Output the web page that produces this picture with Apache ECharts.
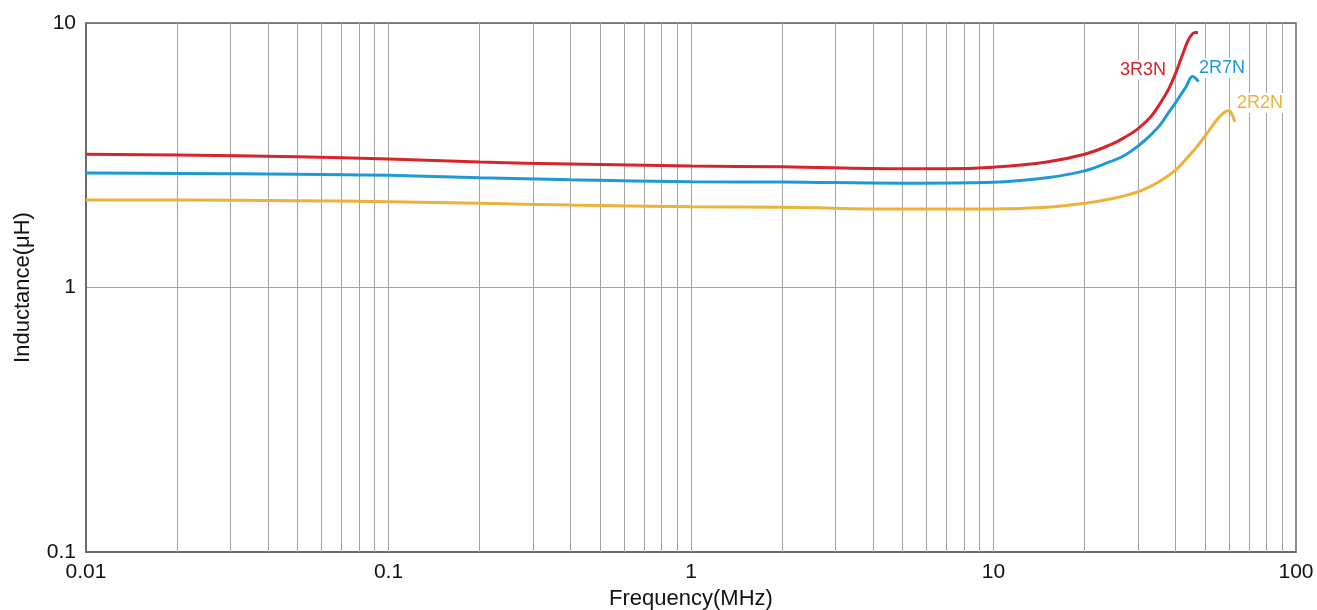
<!DOCTYPE html>
<html>
<head>
<meta charset="utf-8">
<script src="https://cdn.jsdelivr.net/npm/echarts@6/dist/echarts.min.js"></script>
<style>html,body{margin:0;padding:0;background:#fff}#c{width:1317px;height:610px}</style>
</head>
<body>
<div id="c"></div>
<script>
const xTickLabels = ['0.01', '0.1', '1', '10', '100'];
const yTickLabels = ['0.1', '1', '10'];
const gridFreqs = [0.02,0.03,0.04,0.05,0.06,0.07,0.08,0.09,0.1,0.2,0.3,0.4,0.5,0.6,0.7,0.8,0.9,1,2,3,4,5,6,7,8,9,10,20,30,40,50,60,70,80,90];

const redFreq = [0.01,0.02,0.05,0.1,0.2,0.4,1,2,5,7,10,15,20,24.3,27,30,33,35.5,38,40,42,44,45.5,46.5,47.4];
const redVal  = [3.19,3.17,3.12,3.06,2.98,2.93,2.88,2.86,2.81,2.81,2.85,2.98,3.19,3.46,3.68,3.98,4.4,4.95,5.65,6.45,7.5,8.6,9.1,9.2,9.2];

const blueFreq = [0.01,0.02,0.05,0.1,0.2,0.4,1,2,5,10,15,20,24.3,27,30,33,35.5,38,40,43.3,45.5,46.6,47.6];
const blueVal  = [2.71,2.70,2.68,2.655,2.60,2.557,2.51,2.505,2.48,2.50,2.60,2.76,2.99,3.15,3.42,3.76,4.11,4.6,5.0,5.74,6.27,6.18,6.0];

const yelFreq = [0.01,0.02,0.05,0.1,0.2,0.4,1,2,5,10,15,20,24.3,30,35,40,44,47,51,54.7,58,60,61.5,62.8];
const yelVal  = [2.14,2.14,2.13,2.11,2.08,2.05,2.02,2.01,1.98,1.98,2.01,2.08,2.16,2.30,2.50,2.78,3.12,3.40,3.85,4.30,4.6,4.66,4.5,4.23];

const seriesNames = ['3R3N', '2R7N', '2R2N'];
const seriesColors = ['#d7242a', '#1f9ad6', '#ecb23a'];
const labelPos = [[31.2, 6.64], [56.9, 6.76], [76, 4.98]];

const font = "'Liberation Sans', Arial, Helvetica, sans-serif";
const zip = (a, b) => a.map((v, i) => [v, b[i]]);

const chart = echarts.init(document.getElementById('c'));
const dataSets = [zip(redFreq, redVal), zip(blueFreq, blueVal), zip(yelFreq, yelVal)];

const series = dataSets.map((d, i) => ({
  name: seriesNames[i],
  type: 'line',
  data: d,
  smooth: 0.4,
  symbol: 'none',
  z: 5,
  lineStyle: { color: seriesColors[i], width: 3 },
  markPoint: {
    symbol: 'rect', symbolSize: 1, silent: true,
    itemStyle: { color: 'rgba(0,0,0,0)' },
    data: [{
      coord: labelPos[i],
      label: {
        show: true, formatter: seriesNames[i], color: seriesColors[i],
        fontSize: 18, fontFamily: font, backgroundColor: '#fff',
        padding: [1, 2], position: 'inside'
      }
    }]
  }
}));

series.push({
  type: 'line', data: [], silent: true, z: 1,
  markLine: {
    silent: true, symbol: ['none', 'none'],
    label: { show: false },
    lineStyle: { color: '#a3a3a3', width: 1, type: 'solid' },
    data: gridFreqs.map(f => ({ xAxis: f }))
  }
});

chart.setOption({
  animation: false,
  backgroundColor: '#fff',
  grid: { left: 86, right: 21, top: 23, bottom: 58, containLabel: false, outerBoundsMode: 'none',
          show: true, borderColor: '#666', borderWidth: 1.5, z: 3 },
  xAxis: {
    type: 'log', min: 0.01, max: 100, logBase: 10,
    name: 'Frequency(MHz)', nameLocation: 'middle', nameGap: 35,
    nameTextStyle: { fontSize: 22, fontFamily: font, color: '#111' },
    axisLine: { show: true, lineStyle: { color: '#555', width: 1.5 } },
    axisTick: { show: false },
    axisLabel: { fontSize: 21, fontFamily: font, color: '#111', margin: 10,
      formatter: v => { const s = xTickLabels.find(t => Math.abs(parseFloat(t) - v) / v < 1e-6); return s || ''; } },
    splitLine: { show: false }
  },
  yAxis: {
    type: 'log', min: 0.1, max: 10, logBase: 10,
    name: 'Inductance(μH)', nameLocation: 'middle', nameGap: 52,
    nameTextStyle: { fontSize: 22, fontFamily: font, color: '#111' },
    axisLine: { show: true, lineStyle: { color: '#555', width: 1.5 } },
    axisTick: { show: false },
    axisLabel: { fontSize: 21, fontFamily: font, color: '#111', margin: 10,
      formatter: v => { const s = yTickLabels.find(t => Math.abs(parseFloat(t) - v) / v < 1e-6); return s || ''; } },
    splitLine: { show: true, lineStyle: { color: '#a3a3a3', width: 1 } }
  },
  series: series
});
</script>
</body>
</html>
